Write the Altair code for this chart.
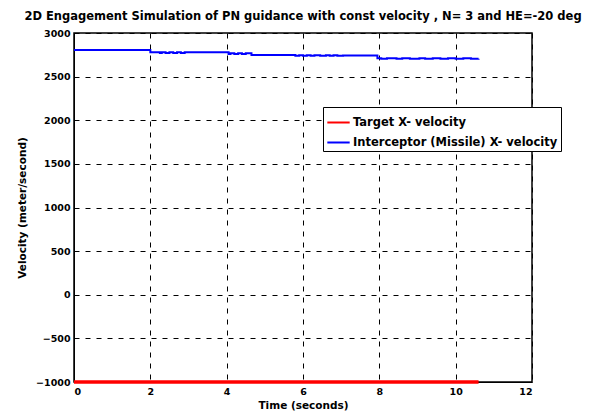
import altair as alt
import pandas as pd

# Target X-velocity (m/s)
target_t = [0.0, 10.6]
target_v = [-1000, -1000]

# Interceptor (Missile) X-velocity (m/s)
missile_t = [0.0, 2.0, 2.25, 2.3, 2.4, 2.5, 2.6, 2.7, 2.8, 2.9, 4.05, 4.1, 4.2, 4.3, 4.4, 4.5, 4.65,
             5.8, 5.9, 6.0, 6.1, 6.2, 6.3, 6.45, 6.6, 6.7, 6.8, 6.9, 7.05, 7.95, 8.05, 8.2, 8.45, 8.6, 8.8, 9.05, 9.2, 9.4, 9.6, 9.8, 10.0, 10.2, 10.4, 10.6]
missile_v = [2805, 2779, 2770, 2779, 2770, 2779, 2770, 2779, 2770, 2779, 2760, 2769, 2760, 2769, 2760, 2769, 2748,
             2738, 2746, 2738, 2746, 2738, 2746, 2738, 2746, 2738, 2746, 2738, 2742, 2712, 2704, 2712, 2704, 2712, 2704, 2712, 2704, 2712, 2704, 2712, 2704, 2712, 2704, 2706]

x_ticks = [0, 2, 4, 6, 8, 10, 12]
y_ticks = [-1000, -500, 0, 500, 1000, 1500, 2000, 2500, 3000]

s_target = "Target X- velocity"
s_missile = "Interceptor (Missile) X- velocity"

df_t = pd.DataFrame({"t": target_t, "v": target_v, "series": s_target, "o": range(len(target_t))})
df_m = pd.DataFrame({"t": missile_t, "v": missile_v, "series": s_missile, "o": range(len(missile_t))})

FONT = "DejaVu Sans"

x_enc = alt.X("t:Q", scale=alt.Scale(domain=[0, 12], nice=False),
              axis=alt.Axis(values=x_ticks, title="Time (seconds)", format="d"))
y_enc = alt.Y("v:Q", scale=alt.Scale(domain=[-1000, 3000], nice=False),
              axis=alt.Axis(values=y_ticks, title="Velocity (meter/second)", format="d"))
c_enc = alt.Color("series:N",
                  scale=alt.Scale(domain=[s_target, s_missile], range=["#ff0000", "#0000ff"]),
                  legend=alt.Legend(title=None, orient="none", legendX=249, legendY=74,
                                    symbolType="stroke", symbolSize=500, symbolStrokeWidth=2,
                                    fillColor="white", strokeColor="black", padding=3,
                                    labelFont=FONT, labelFontSize=11.5, labelFontWeight="bold",
                                    labelColor="black", rowPadding=2, symbolOffset=0, labelOffset=2,
                                    labelLimit=0))

red = alt.Chart(df_t).mark_line(strokeWidth=3.5, clip=False).encode(x=x_enc, y=y_enc, order="o:Q", color=c_enc)
blue = alt.Chart(df_m).mark_line(strokeWidth=2, interpolate="step-after").encode(x=x_enc, y=y_enc, order="o:Q", color=c_enc)

chart = alt.layer(red, blue).properties(
    width=458, height=349,
    title=alt.TitleParams("2D Engagement Simulation of PN guidance with const velocity , N= 3 and HE=-20 deg",
                          font=FONT, fontSize=11.5, fontWeight="bold", anchor="middle", offset=6, color="black"),
    autosize=alt.AutoSizeParams(type="none"),
    padding={"left": 66, "top": 25, "right": 53, "bottom": 30},
).configure_view(
    stroke="black", strokeWidth=1.5
).configure_axis(
    grid=True, gridColor="black", gridDash=[5, 6], gridOpacity=1, gridWidth=1,
    domainColor="black", tickSize=0, labelFont=FONT, labelFontSize=9.5, labelFontWeight="bold",
    labelColor="black", titleFont=FONT, titleFontSize=10.5, titleFontWeight="bold", titleColor="black",
    labelPadding=4,
).configure_axisY(titlePadding=8).configure_axisX(titlePadding=5)

chart.save("out.html", embed_options={"renderer": "svg", "actions": False})
